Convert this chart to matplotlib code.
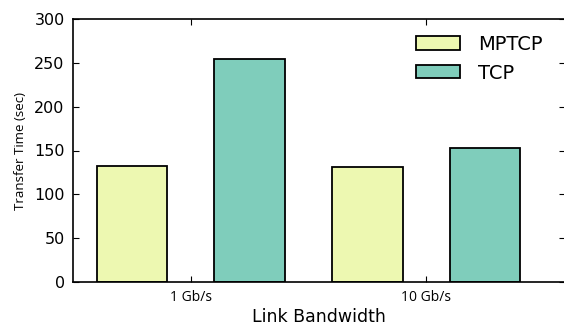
import matplotlib
matplotlib.use("Agg")
import matplotlib.pyplot as plt
import numpy as np

groups = ["1 Gb/s", "10 Gb/s"]
series = ["MPTCP", "TCP"]
mptcp = [132.5, 130.8]
tcp = [254.5, 152.5]
colors = ["#edf8b1", "#7fcdbb"]

fig = plt.figure(figsize=(5.64, 3.27), dpi=100)
ax = fig.add_axes([73 / 564, 45 / 327, 492 / 564, 263 / 327])

x = np.arange(len(groups))
width = 0.3
ax.bar(x - 0.25, mptcp, width, color=colors[0], edgecolor="black", linewidth=1.3, label=series[0])
ax.bar(x + 0.25, tcp, width, color=colors[1], edgecolor="black", linewidth=1.3, label=series[1])

ax.set_xlim(-0.5, 1.59)
ax.set_ylim(0, 300)
ax.set_xticks(x)
ax.set_xticklabels(groups, fontsize=10, family="Open Sans")
ax.set_yticks(np.arange(0, 301, 50))
ax.tick_params(axis="y", labelsize=11.5)
ax.tick_params(direction="in", top=True, right=True, length=4, width=0.8, pad=6)
for s in ax.spines.values():
    s.set_linewidth(1.2)

ax.set_xlabel("Link Bandwidth", fontsize=12.5, labelpad=2)
ax.set_ylabel("Transfer Time (sec)", fontsize=9.5, family="Open Sans", labelpad=5)

ax.legend(loc="upper left", frameon=False, fontsize=14, handlelength=2.27,
          handleheight=0.67, handletextpad=0.93, labelspacing=0.5,
          borderpad=0, borderaxespad=0, bbox_to_anchor=(0.697, 0.94))

fig.savefig("out.png", dpi=100)
